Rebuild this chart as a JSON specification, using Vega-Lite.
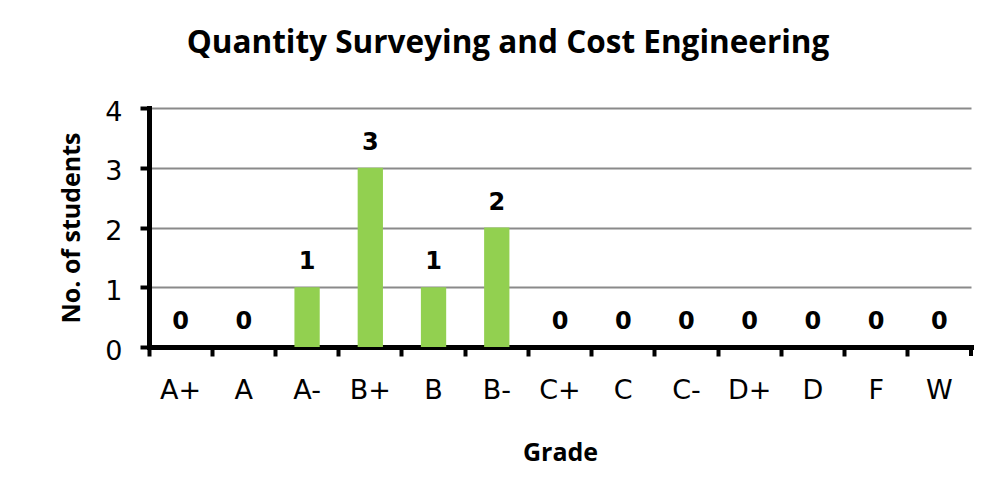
{
  "$schema": "https://vega.github.io/schema/vega-lite/v6.json",
  "autosize": "none",
  "width": 822,
  "height": 239,
  "padding": {"left": 149, "top": 108, "right": 24, "bottom": 154},
  "background": "white",
  "title": {
    "text": "Quantity Surveying and Cost Engineering",
    "font": "Open Sans",
    "fontWeight": "bold",
    "fontSize": 31.5,
    "color": "black",
    "anchor": "middle",
    "baseline": "alphabetic",
    "dx": -52,
    "offset": 14
  },
  "data": {
    "values": [
      {"grade": "A+", "students": 0},
      {"grade": "A", "students": 0},
      {"grade": "A-", "students": 1},
      {"grade": "B+", "students": 3},
      {"grade": "B", "students": 1},
      {"grade": "B-", "students": 2},
      {"grade": "C+", "students": 0},
      {"grade": "C", "students": 0},
      {"grade": "C-", "students": 0},
      {"grade": "D+", "students": 0},
      {"grade": "D", "students": 0},
      {"grade": "F", "students": 0},
      {"grade": "W", "students": 0}
    ]
  },
  "encoding": {
    "x": {
      "field": "grade",
      "type": "nominal",
      "sort": null,
      "scale": {"paddingInner": 0, "paddingOuter": 0},
      "axis": {
        "title": "Grade",
        "labelAngle": 0,
        "bandPosition": 0,
        "labelFont": "DejaVu Sans",
        "labelFontSize": 27,
        "labelColor": "black",
        "labelPadding": 21,
        "tickSize": 9,
        "tickWidth": 4,
        "tickColor": "black",
        "domainColor": "black",
        "domainWidth": 5,
        "domainCap": "square",
        "titleFont": "Open Sans",
        "titleFontWeight": "bold",
        "titleFontSize": 25,
        "titleColor": "black",
        "titlePadding": 37
      }
    },
    "y": {
      "field": "students",
      "type": "quantitative",
      "scale": {"domain": [0, 4]},
      "axis": {
        "title": "No. of students",
        "values": [0, 1, 2, 3, 4],
        "labelFont": "DejaVu Sans",
        "labelFontSize": 27,
        "labelColor": "black",
        "labelPadding": 18,
        "labelOffset": 4,
        "tickSize": 9,
        "tickWidth": 4,
        "tickColor": "black",
        "domainColor": "black",
        "domainWidth": 5,
        "domainCap": "square",
        "grid": true,
        "gridColor": "#8a8a8a",
        "gridWidth": 2,
        "titleFont": "Open Sans",
        "titleFontWeight": "bold",
        "titleFontSize": 25,
        "titleColor": "black",
        "titlePadding": 20
      }
    }
  },
  "layer": [
    {
      "mark": {"type": "bar", "color": "#92D050", "width": {"band": 0.4}}
    },
    {
      "mark": {
        "type": "text",
        "font": "DejaVu Sans",
        "fontWeight": "bold",
        "fontSize": 24,
        "color": "black",
        "baseline": "alphabetic",
        "dy": -18
      },
      "encoding": {"text": {"field": "students", "type": "quantitative"}}
    },
    {
      "mark": {"type": "tick", "orient": "vertical", "color": "black", "size": 9, "thickness": 4, "yOffset": 4.5},
      "encoding": {
        "x": {"datum": "W", "type": "nominal", "bandPosition": 1},
        "y": {"datum": 0, "type": "quantitative"}
      }
    }
  ],
  "config": {"view": {"stroke": null}}
}
